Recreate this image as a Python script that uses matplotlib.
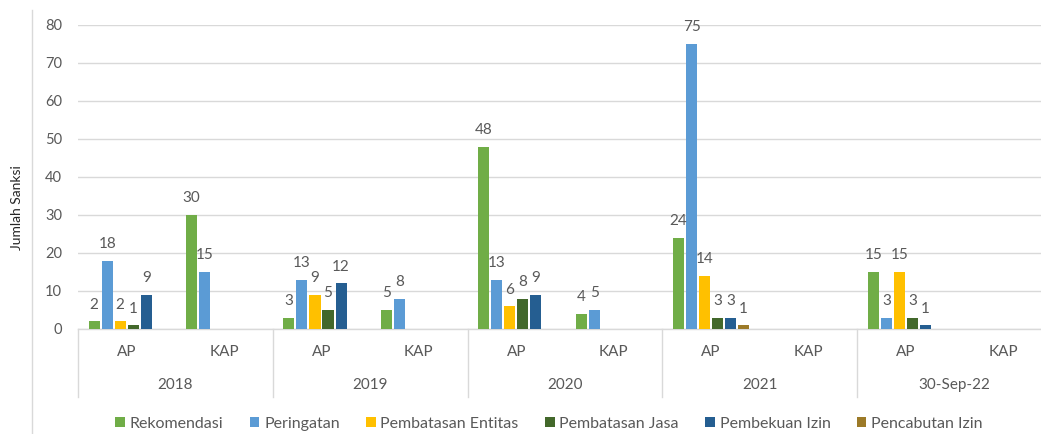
import matplotlib
matplotlib.use("Agg")
import matplotlib.pyplot as plt
from matplotlib.lines import Line2D
from matplotlib.patches import Patch
from matplotlib.transforms import blended_transform_factory
import numpy as np

plt.rcParams['font.family'] = ['Lato', 'DejaVu Sans']

years = ["2018", "2019", "2020", "2021", "30-Sep-22"]
subcats = ["AP", "KAP"]
series_names = ["Rekomendasi", "Peringatan", "Pembatasan Entitas",
                "Pembatasan Jasa", "Pembekuan Izin", "Pencabutan Izin"]
colors = ["#70AD47", "#5B9BD5", "#FFC000", "#43682B", "#255E91", "#9C7A28"]

# order: 2018 AP, 2018 KAP, 2019 AP, 2019 KAP, ..., 30-Sep-22 KAP
rekomendasi = [2, 30, 3, 5, 48, 4, 24, 0, 15, 0]
peringatan = [18, 15, 13, 8, 13, 5, 75, 0, 3, 0]
pembatasan_entitas = [2, 0, 9, 0, 6, 0, 14, 0, 15, 0]
pembatasan_jasa = [1, 0, 5, 0, 8, 0, 3, 0, 3, 0]
pembekuan_izin = [9, 0, 12, 0, 9, 0, 3, 0, 1, 0]
pencabutan_izin = [0, 0, 0, 0, 0, 0, 1, 0, 0, 0]
series = [rekomendasi, peringatan, pembatasan_entitas,
          pembatasan_jasa, pembekuan_izin, pencabutan_izin]

W, H = 1041, 434
fig = plt.figure(figsize=(W / 100, H / 100), dpi=100)
ax = fig.add_axes([78 / W, (H - 329) / H, (1052 - 78) / W, (329 - 25) / H])

gray = "#595959"
n = len(series)
step = 0.1335
bw = 0.113
x = np.arange(len(years) * len(subcats))
for i, (vals, c) in enumerate(zip(series, colors)):
    off = (i - (n - 1) / 2) * step
    for xi, v in zip(x, vals):
        if v == 0:
            continue
        ax.bar(xi + off, v, width=bw, color=c, linewidth=0, zorder=3)
        ax.annotate(str(v), (xi + off, v), xytext=(0, 12), textcoords="offset points",
                    ha="center", va="center", fontsize=11, color=gray, zorder=4)

ax.set_xlim(-0.5, len(x) - 0.5)
ax.set_ylim(0, 80)
ax.set_yticks(range(0, 81, 10))
ax.tick_params(axis="y", length=0, pad=11.5, labelsize=10.5, labelcolor=gray)
ax.set_xticks([])
ax.yaxis.grid(True, color="#D9D9D9", linewidth=1, zorder=0)
for s in ["top", "right", "left"]:
    ax.spines[s].set_visible(False)
ax.spines["bottom"].set_color("#D9D9D9")
ax.spines["bottom"].set_linewidth(1)

trans = blended_transform_factory(ax.transData, fig.transFigure)
labels_sub = [s for _ in years for s in subcats]
for xi, lab in zip(x, labels_sub):
    ax.text(xi, (H - 352) / H, lab, transform=trans, ha="center", va="center",
            fontsize=11, color=gray)
for j, yr in enumerate(years):
    ax.text(2 * j + 0.5, (H - 385) / H, yr, transform=trans, ha="center", va="center",
            fontsize=11, color=gray)
for b in np.arange(-0.5, len(x), 2):
    ax.add_line(Line2D([b, b], [(H - 329) / H, (H - 397) / H], transform=trans,
                       color="#D9D9D9", linewidth=1, clip_on=False))

fig.text(17 / W, (H - 208) / H, "Jumlah Sanksi", rotation=90, ha="center", va="center",
         fontsize=10, color="#262626")

fig.add_artist(Line2D([32 / W, 32 / W], [0, (H - 10) / H], transform=fig.transFigure,
                      color="#D9D9D9", linewidth=1))

handles = [Patch(facecolor=c, edgecolor="none") for c in colors]
fig.legend(handles, series_names, loc="center", bbox_to_anchor=(549 / W, (H - 424) / H),
           ncol=6, frameon=False, fontsize=11.5, labelcolor=gray,
           handlelength=0.6, handleheight=0.6, handletextpad=0.3, columnspacing=1.65)

fig.savefig("out.png", dpi=100)
